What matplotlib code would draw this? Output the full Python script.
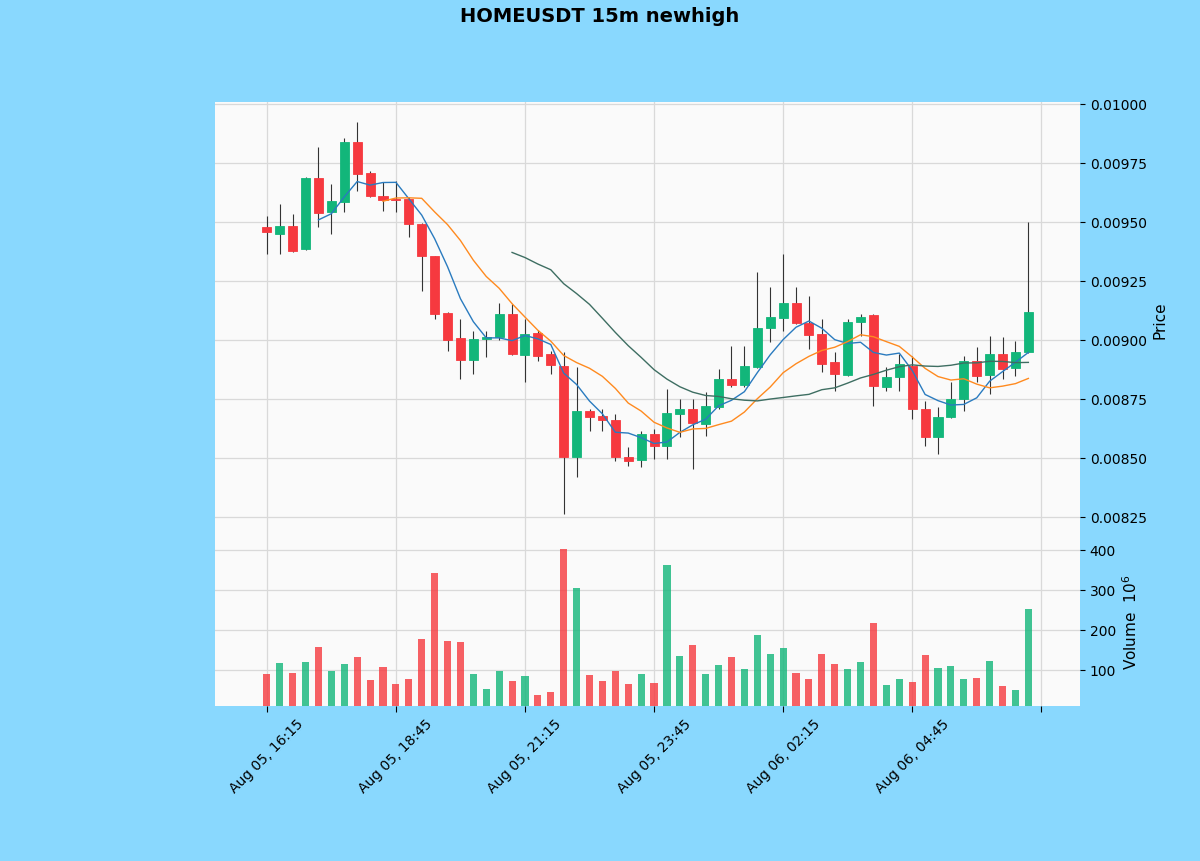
import matplotlib
matplotlib.use("Agg")
import matplotlib.pyplot as plt
import numpy as np
import pandas as pd

# 15m candles, Aug 05 16:15 -> Aug 06 07:00
times = pd.date_range("2024-08-05 16:15", periods=60, freq="15min")

opens = [0.009479, 0.009449, 0.009483, 0.009386, 0.009686, 0.009542, 0.009585, 0.009839, 0.009708, 0.009610,
         0.009596, 0.009597, 0.009492, 0.009356, 0.009114, 0.009008, 0.008915, 0.009004, 0.009013, 0.009110,
         0.008936, 0.009030, 0.008941, 0.008890, 0.008504, 0.008699, 0.008678, 0.008661, 0.008504, 0.008492,
         0.008602, 0.008551, 0.008686, 0.008708, 0.008644, 0.008716, 0.008835, 0.008809, 0.008886, 0.009051,
         0.009093, 0.009157, 0.009072, 0.009025, 0.008907, 0.008852, 0.009076, 0.009106, 0.008801, 0.008843,
         0.008890, 0.008708, 0.008589, 0.008674, 0.008750, 0.008911, 0.008852, 0.008941, 0.008881, 0.008949]
highs = [0.009525, 0.009576, 0.009534, 0.009690, 0.009818, 0.009661, 0.009856, 0.009924, 0.009716, 0.009669,
         0.009674, 0.009606, 0.009496, 0.009356, 0.009118, 0.009089, 0.009038, 0.009038, 0.009157, 0.009153,
         0.009089, 0.009042, 0.008953, 0.008949, 0.008886, 0.008708, 0.008708, 0.008686, 0.008547, 0.008614,
         0.008623, 0.008792, 0.008750, 0.008750, 0.008780, 0.008877, 0.008975, 0.008975, 0.009288, 0.009225,
         0.009364, 0.009225, 0.009186, 0.009089, 0.008949, 0.009089, 0.009110, 0.009110, 0.008886, 0.008941,
         0.008932, 0.008742, 0.008716, 0.008822, 0.008932, 0.008970, 0.009017, 0.009013, 0.008996, 0.009500]
lows = [0.009364, 0.009364, 0.009373, 0.009381, 0.009479, 0.009449, 0.009542, 0.009631, 0.009606, 0.009547,
        0.009542, 0.009436, 0.009208, 0.009089, 0.008953, 0.008835, 0.008856, 0.008928, 0.009000, 0.008936,
        0.008822, 0.008911, 0.008856, 0.008263, 0.008420, 0.008614, 0.008614, 0.008487, 0.008466, 0.008462,
        0.008496, 0.008496, 0.008589, 0.008453, 0.008593, 0.008708, 0.008801, 0.008801, 0.008882, 0.008992,
        0.009038, 0.009068, 0.008962, 0.008864, 0.008784, 0.008848, 0.009017, 0.008720, 0.008784, 0.008784,
        0.008665, 0.008551, 0.008517, 0.008670, 0.008699, 0.008822, 0.008771, 0.008835, 0.008847, 0.008945]
closes = [0.009458, 0.009483, 0.009377, 0.009686, 0.009538, 0.009589, 0.009839, 0.009703, 0.009610, 0.009593,
          0.009593, 0.009492, 0.009356, 0.009110, 0.009000, 0.008915, 0.009004, 0.009013, 0.009110, 0.008941,
          0.009025, 0.008932, 0.008894, 0.008504, 0.008699, 0.008674, 0.008661, 0.008504, 0.008487, 0.008602,
          0.008551, 0.008691, 0.008708, 0.008648, 0.008720, 0.008835, 0.008809, 0.008890, 0.009051, 0.009098,
          0.009157, 0.009072, 0.009021, 0.008898, 0.008856, 0.009076, 0.009098, 0.008805, 0.008843, 0.008898,
          0.008708, 0.008589, 0.008674, 0.008750, 0.008911, 0.008848, 0.008941, 0.008877, 0.008949, 0.009119]
volumes = [90, 117, 92, 120, 158, 96, 114, 131, 75, 107,
           65, 77, 176, 342, 173, 169, 89, 52, 97, 72,
           84, 36, 44, 402, 304, 87, 73, 98, 65, 90,
           67, 361, 134, 162, 90, 113, 131, 102, 187, 140,
           155, 91, 77, 140, 114, 102, 119, 217, 61, 77,
           69, 137, 105, 110, 77, 80, 122, 60, 50, 252]  # x 1e6

mav_periods = [5, 10, 20]
mav_colors = ["#2a7bbf", "#ff8a1f", "#3e6e62"]

up_color = "#12b67a"
down_color = "#f6393f"
fig_bg = "#89d8fe"

df = pd.DataFrame({"open": opens, "high": highs, "low": lows, "close": closes,
                   "volume": volumes}, index=times)
x = np.arange(len(df))
colors = [up_color if c >= o else down_color for o, c in zip(df["open"], df["close"])]

fig = plt.figure(figsize=(12, 8.62), dpi=100, facecolor=fig_bg)
ax = fig.add_axes([0.179, 0.376, 0.721, 0.5045])
axv = fig.add_axes([0.179, 0.180, 0.721, 0.196], sharex=ax)

for a in (ax, axv):
    a.set_facecolor("#fafafa")
    for s in a.spines.values():
        s.set_visible(False)
    a.grid(True, color="#d9d9d9", linewidth=0.9)
    a.set_axisbelow(True)
    a.yaxis.tick_right()
    a.yaxis.set_label_position("right")

# candles
bodies_bottom = np.minimum(df["open"], df["close"])
bodies_height = np.abs(df["close"] - df["open"])
ax.vlines(x, df["low"], df["high"], color="#333333", linewidth=0.8, zorder=2)
ax.bar(x, bodies_height, 0.7, bottom=bodies_bottom, color=colors, edgecolor=colors,
       linewidth=0.6, zorder=3)

for n, col in zip(mav_periods, mav_colors):
    ma = df["close"].rolling(n).mean()
    ax.plot(x, ma, color=col, linewidth=1.0, zorder=4)

ax.set_ylim(0.008165, 0.010008)
ax.set_yticks([0.00825, 0.00850, 0.00875, 0.00900, 0.00925, 0.00950, 0.00975, 0.01000])
ax.set_yticklabels([f"{v:.5f}" for v in ax.get_yticks()])
ax.set_ylabel("Price", fontsize=11)
ax.tick_params(axis="x", labelbottom=False, length=0)
ax.tick_params(axis="y", labelsize=10)

# volume
axv.bar(x, df["volume"], 0.55, color=colors, alpha=0.8, zorder=3)
axv.set_ylim(10, 432)
axv.set_yticks([100, 200, 300, 400])
axv.set_ylabel("Volume  $10^{6}$", fontsize=11)
axv.tick_params(axis="y", labelsize=10)

ax.set_xlim(-4.03, 63.0)
tick_idx = [0, 10, 20, 30, 40, 50, 60]
labels = [times[i].strftime("%b %d, %H:%M") if i < len(times) else "" for i in tick_idx]
axv.set_xticks(tick_idx)
axv.set_xticklabels(labels, rotation=45, fontsize=10)
axv.tick_params(axis="x", length=4)

fig.suptitle("HOMEUSDT 15m newhigh", fontsize=14, fontweight="bold", y=0.992)

fig.savefig("out.png", dpi=100, facecolor=fig_bg)
